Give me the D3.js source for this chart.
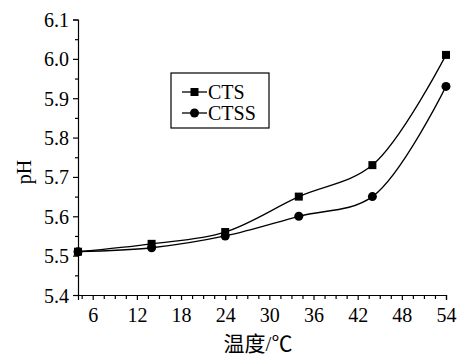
<!DOCTYPE html>
<html>
<head>
<meta charset="utf-8">
<script src="https://cdn.jsdelivr.net/npm/d3@7"></script>
<style>
  body { margin: 0; background: #fff; }
</style>
</head>
<body>
<svg id="chart" width="463" height="358"></svg>
<script>
// data
let temps = [4, 14, 24, 34, 44, 54];
let cts = [5.51, 5.53, 5.56, 5.65, 5.73, 6.01];
let ctss = [5.51, 5.52, 5.55, 5.60, 5.65, 5.93];
let xTickVals = [6, 12, 18, 24, 30, 36, 42, 48, 54];
let yTickVals = [5.4, 5.5, 5.6, 5.7, 5.8, 5.9, 6.0, 6.1];
let seriesNames = ["CTS", "CTSS"];

let svg = d3.select("#chart");

let x = d3.scaleLinear().domain([4, 54]).range([78, 446]);
let y = d3.scaleLinear().domain([5.4, 6.1]).range([295, 19.5]);

// y axis
let yAxis = svg.append("g")
    .attr("transform", "translate(78,0)")
    .call(d3.axisLeft(y).tickValues(yTickVals).tickFormat(d3.format(".1f")).tickSize(5).tickPadding(4));
yAxis.selectAll(".tick text").attr("dy", null).attr("y", 7);
svg.append("g")
    .attr("transform", "translate(78,0)")
    .call(d3.axisLeft(y).tickValues(d3.range(5.45, 6.1, 0.1)).tickFormat("").tickSize(3))
    .select(".domain").remove();

// x axis
let xAxis = svg.append("g")
    .attr("transform", "translate(0,295)")
    .call(d3.axisBottom(x).tickValues(xTickVals).tickSize(5).tickPadding(7));
xAxis.selectAll(".tick text").attr("dy", null).attr("y", 27);
let minorX = d3.range(4.5, 54.1, 1.5).filter(v => v % 6 !== 0);
svg.append("g")
    .attr("transform", "translate(0,295)")
    .call(d3.axisBottom(x).tickValues(minorX).tickFormat("").tickSize(4))
    .select(".domain").remove();

svg.selectAll(".domain, .tick line").attr("stroke", "#000").attr("stroke-width", 1.2);
svg.selectAll("g").attr("font-family", null).attr("font-size", null);

// labels
svg.append("text")
    .attr("transform", "translate(31,172) rotate(-90)")
    .attr("text-anchor", "middle")
    .text("pH");
svg.append("text")
    .attr("x", 258).attr("y", 351)
    .attr("text-anchor", "middle")
    .attr("class", "cjk")
    .text("温度/℃");

// lines
let line = d3.line()
    .x((d, i) => x(temps[i]))
    .y(d => y(d))
    .curve(d3.curveCatmullRom.alpha(0.5));

[cts, ctss].forEach(s => {
  svg.append("path")
      .attr("d", line(s))
      .attr("fill", "none")
      .attr("stroke", "#000")
      .attr("stroke-width", 1.3);
});

// markers
svg.selectAll(".sq").data(cts).enter().append("rect")
    .attr("x", (d, i) => x(temps[i]) - 4)
    .attr("y", d => y(d) - 4)
    .attr("width", 8).attr("height", 8)
    .attr("fill", "#000");
svg.selectAll(".dot").data(ctss).enter().append("circle")
    .attr("cx", (d, i) => x(temps[i]))
    .attr("cy", d => y(d))
    .attr("r", 4.5)
    .attr("fill", "#000");

// legend
let lg = svg.append("g");
lg.append("rect")
    .attr("x", 171).attr("y", 73)
    .attr("width", 98).attr("height", 55)
    .attr("fill", "none").attr("stroke", "#000").attr("stroke-width", 1.2);
seriesNames.forEach((name, i) => {
  let cy = 92 + i * 21;
  lg.append("line")
      .attr("x1", 182).attr("x2", 207).attr("y1", cy).attr("y2", cy)
      .attr("stroke", "#000").attr("stroke-width", 1.3);
  if (i === 0) {
    lg.append("rect").attr("x", 190.5).attr("y", cy - 4).attr("width", 8).attr("height", 8).attr("fill", "#000");
  } else {
    lg.append("circle").attr("cx", 194.5).attr("cy", cy).attr("r", 4.5).attr("fill", "#000");
  }
  lg.append("text")
      .attr("x", 208).attr("y", cy + 7)
      .text(name);
});

svg.selectAll("text")
    .style("font-family", "'Liberation Serif'")
    .style("font-size", "20px")
    .attr("fill", "#000");
svg.selectAll("text.cjk")
    .style("font-family", "'Liberation Serif', 'Noto Sans CJK SC'")
    .style("font-size", "21px");
</script>
</body>
</html>
